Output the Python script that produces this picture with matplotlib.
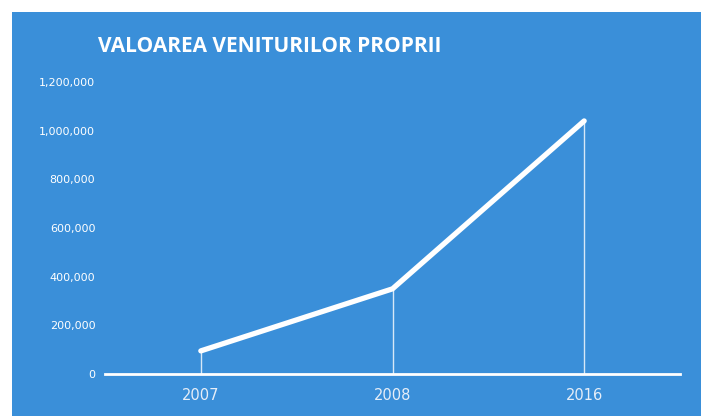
import matplotlib
matplotlib.use("Agg")
import matplotlib.pyplot as plt
from matplotlib.patches import Rectangle
from matplotlib.ticker import FuncFormatter

years = ["2007", "2008", "2016"]
values = [95000, 350000, 1040000]
yticks = [0, 200000, 400000, 600000, 800000, 1000000, 1200000]
title = "VALOAREA VENITURILOR PROPRII"

BLUE = "#3a8fd9"
fig = plt.figure(figsize=(7.01, 4.16), dpi=100, facecolor=BLUE)
# white scan margins on top and left
fig.patches.append(Rectangle((0, 1 - 12/416), 1, 12/416, transform=fig.transFigure,
                             facecolor="white", edgecolor="none", zorder=0))
fig.patches.append(Rectangle((0, 0), 12/701, 1, transform=fig.transFigure,
                             facecolor="white", edgecolor="none", zorder=0))

ax = fig.add_axes([105/701, 1 - 374/416, 575/701, 292/416])
ax.set_facecolor(BLUE)
x = list(range(len(years)))
ax.vlines(x, 0, values, colors="white", linewidth=1, alpha=0.8)
ax.plot(x, values, color="white", linewidth=3.8, solid_joinstyle="round",
        solid_capstyle="round")
ax.set_xlim(-0.5, 2.5)
ax.set_ylim(0, 1200000)
ax.set_yticks(yticks)
ax.yaxis.set_major_formatter(FuncFormatter(lambda v, p: f"{int(v):,}"))
ax.set_xticks(x)
ax.set_xticklabels(years)
for s in ["top", "right", "left"]:
    ax.spines[s].set_visible(False)
ax.spines["bottom"].set_color("white")
ax.spines["bottom"].set_linewidth(2)
ax.tick_params(axis="y", length=0, pad=7, labelcolor="white", labelsize=8)
ax.tick_params(axis="x", length=0, pad=10, labelcolor="#e6eef8", labelsize=10.5)

fig.text(270/701, 1 - 47/416, title, ha="center", va="center", color="white",
         fontsize=15, fontweight="bold", family="Open Sans")

fig.savefig("out.png", dpi=100, facecolor=fig.get_facecolor())
